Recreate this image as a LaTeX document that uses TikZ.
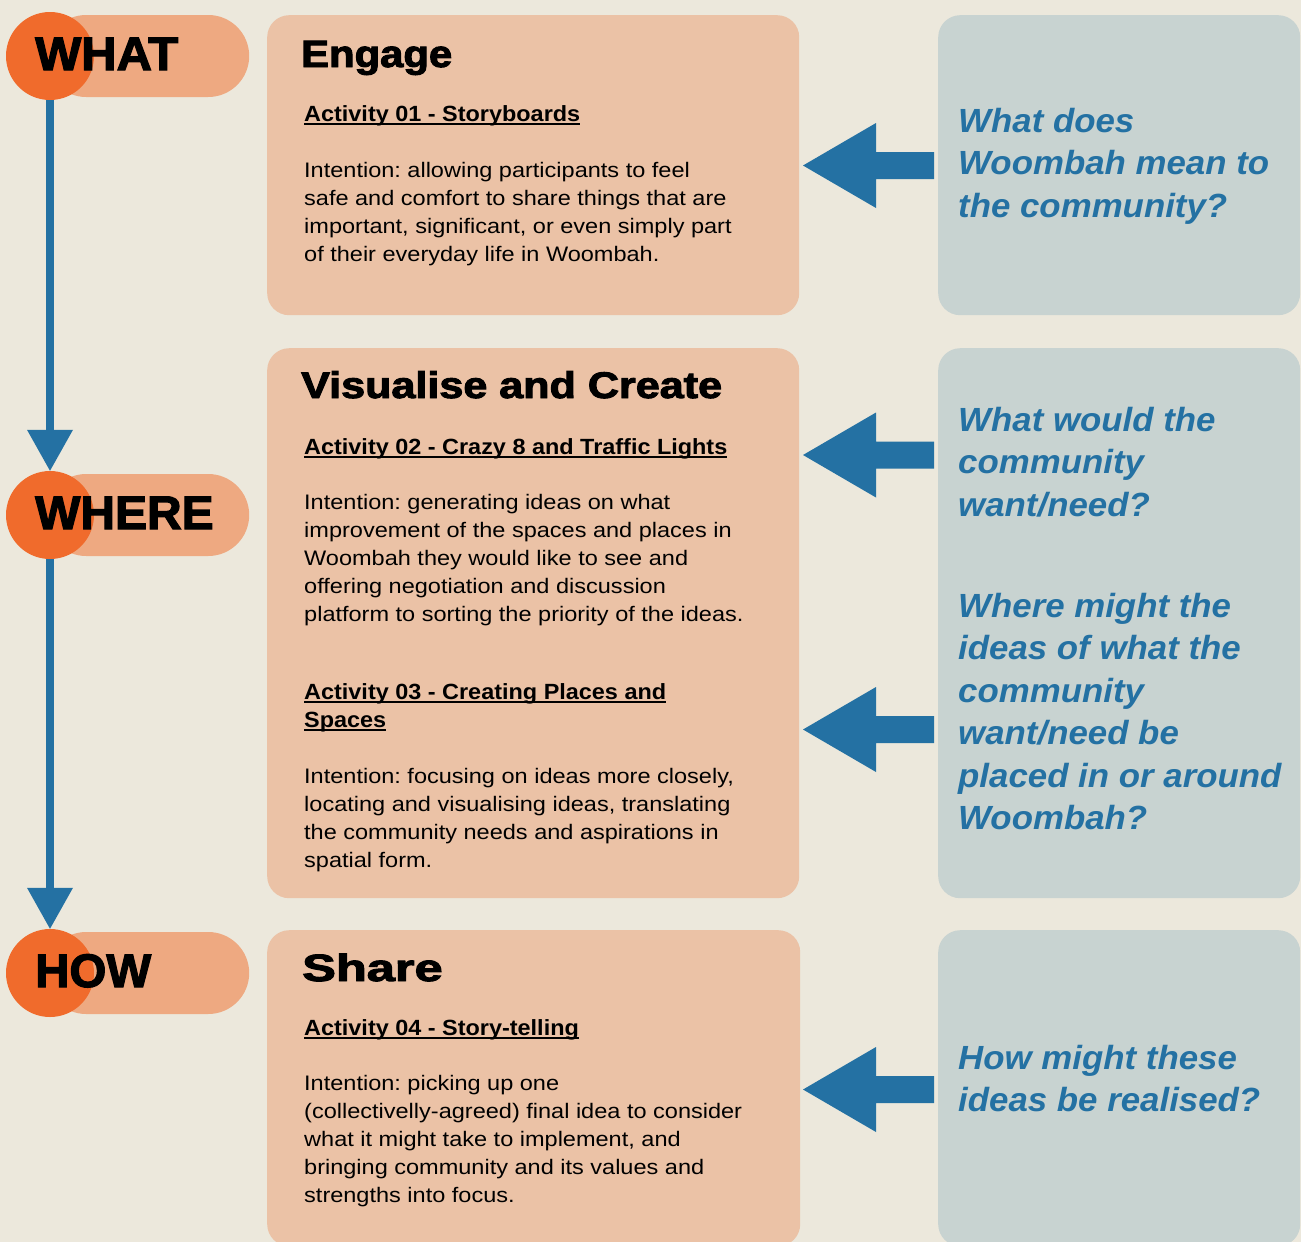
\documentclass[tikz,border=0pt]{standalone}
\usepackage{fontspec}
\usepackage{graphicx}
\usetikzlibrary{arrows.meta}
\setmainfont{Liberation Sans}
\newfontfamily\bodyfont{Liberation Sans}[FakeStretch=1.12]
\newfontfamily\headfont{Liberation Sans Bold}[FakeStretch=1.065]
\newfontfamily\heavyfont{Liberation Sans Bold}[FakeBold=2.5]
\newfontfamily\qfont{Liberation Sans Bold Italic}[FakeStretch=1.04]
\definecolor{bgcol}{RGB}{236,232,220}
\definecolor{oboxcol}{RGB}{235,194,166}
\definecolor{gboxcol}{RGB}{200,211,209}
\definecolor{pillcol}{RGB}{238,169,129}
\definecolor{circcol}{RGB}{240,107,44}
\definecolor{qblue}{RGB}{36,113,163}
\frenchspacing
\newcommand\actul[1]{\leavevmode\setbox0\hbox{#1}\rlap{\rule[-4pt]{\wd0}{1.8pt}}\box0}
\newcommand\fatarrow[1]{\fill[qblue] (#1) -- ++(73,-42.5) -- ++(0,29) -- ++(58,0) -- ++(0,27) -- ++(-58,0) -- ++(0,29) -- cycle;}
\tikzset{
  obox/.style={fill=oboxcol, rounded corners=22pt, inner sep=0pt, anchor=north west},
  gbox/.style={fill=gboxcol, rounded corners=22pt, inner sep=0pt, anchor=north west},
  pillbox/.style={fill=pillcol, rounded corners=41pt, minimum width=204pt, minimum height=82pt, inner sep=0pt, anchor=west},
  circ/.style={circle, fill=circcol, minimum size=88pt, inner sep=0pt},
  lab/.style={inner sep=0pt, anchor=base west, font=\heavyfont\fontsize{47}{50}\selectfont},
  txt/.style={inner sep=0pt, anchor=base west},
  qtxt/.style={inner sep=0pt, anchor=base west, text=qblue},
  vline/.style={draw=qblue, line width=8.5pt, -{Triangle[width=46pt,length=41pt,line width=0pt]}},
}
\newcommand\bodytext[1]{\parbox[t]{480pt}{\bodyfont\fontsize{21}{28}\selectfont #1}}
\newcommand\headtext[1]{\parbox[t]{480pt}{\headfont\fontsize{22}{28}\selectfont #1}}
\newcommand\qtext[1]{\parbox[t]{360pt}{\qfont\fontsize{33.5}{42.5}\selectfont #1}}
\begin{document}
\begin{tikzpicture}[x=1pt,y=-1pt]
\useasboundingbox (0,0) rectangle (1301,1242);
\fill[bgcol] (0,0) rectangle (1301,1242);
\begin{scope}
\clip (0,0) rectangle (1301,1242);
% boxes
\node[obox, minimum width=532pt, minimum height=300pt] (o1) at (267,15) {};
\node[obox, minimum width=532pt, minimum height=550pt] (o2) at (267,348) {};
\node[obox, minimum width=533pt, minimum height=316pt] (o3) at (267,930) {};
\node[gbox, minimum width=362pt, minimum height=300pt] (g1) at (938,15) {};
\node[gbox, minimum width=362pt, minimum height=550pt] (g2) at (938,348) {};
\node[gbox, minimum width=362pt, minimum height=316pt] (g3) at (938,930) {};
\end{scope}
% pills
\node[pillbox] (p1) at (45,56) {};
\node[pillbox] (p2) at (45,515) {};
\node[pillbox] (p3) at (45,973) {};
\node[circ] (c1) at (50,56) {};
\node[circ] (c2) at (50,515) {};
\node[circ] (c3) at (50,973) {};
\node[lab] (l1) at (35,70) {\scalebox{1.04}[1]{WHAT}};
\node[lab] (l2) at (35,529) {\scalebox{1.02}[1]{WHERE}};
\node[lab] (l3) at (35,987) {\scalebox{1.01}[1]{HOW}};
% vertical connectors
\draw[vline] (c1) -- (c2);
\draw[vline] (c2) -- (c3);
% titles
\node[txt] (t1) at (301,67) {\heavyfont\fontsize{38}{40}\selectfont\scalebox{1.10}[1]{Engage}};
\node[txt] (t2) at (301,398) {\heavyfont\fontsize{37}{40}\selectfont\scalebox{1.165}[1]{Visualise and Create}};
\node[txt] (t3) at (302,981) {\heavyfont\fontsize{38}{40}\selectfont\scalebox{1.33}[1]{Share}};
% activity headers
\node[txt] (h1) at (304,121) {\headtext{\actul{Activity 01 - Storyboards}}};
\node[txt] (h2) at (304,454) {\headtext{\actul{Activity 02 - Crazy 8 and Traffic Lights}}};
\node[txt] (h3) at (304,699) {\headtext{\actul{Activity 03 - Creating Places and}\\\actul{Spaces}}};
\node[txt] (h4) at (304,1035) {\headtext{\actul{Activity 04 - Story-telling}}};
% body texts
\node[txt] (b1) at (304,177) {\bodytext{Intention: allowing participants to feel\\safe and comfort to share things that are\\important, significant, or even simply part\\of their everyday life in Woombah.}};
\node[txt] (b2) at (304,509) {\bodytext{Intention: generating ideas on what\\improvement of the spaces and places in\\Woombah they would like to see and\\offering negotiation and discussion\\platform to sorting the priority of the ideas.}};
\node[txt] (b3) at (304,783) {\bodytext{Intention: focusing on ideas more closely,\\locating and visualising ideas, translating\\the community needs and aspirations in\\spatial form.}};
\node[txt] (b4) at (304,1090) {\bodytext{Intention: picking up one\\(collectivelly-agreed) final idea to consider\\what it might take to implement, and\\bringing community and its values and\\strengths into focus.}};
% questions
\node[qtxt] (q1) at (958,132) {\qtext{What does\\Woombah mean to\\the community?}};
\node[qtxt] (q2) at (958,431) {\qtext{What would the\\community\\want/need?}};
\node[qtxt] (q3) at (958,617) {\qtext{Where might the\\ideas of what the\\community\\want/need be\\placed in or around\\Woombah?}};
\node[qtxt] (q4) at (958,1069) {\qtext{How might these\\ideas be realised?}};
% fat arrows from questions to activities
\coordinate (a1) at (803,165.5);
\coordinate (a2) at (803,455);
\coordinate (a3) at (803,729.5);
\coordinate (a4) at (803,1089.5);
\fatarrow{a1}
\fatarrow{a2}
\fatarrow{a3}
\fatarrow{a4}
\end{tikzpicture}
\end{document}
